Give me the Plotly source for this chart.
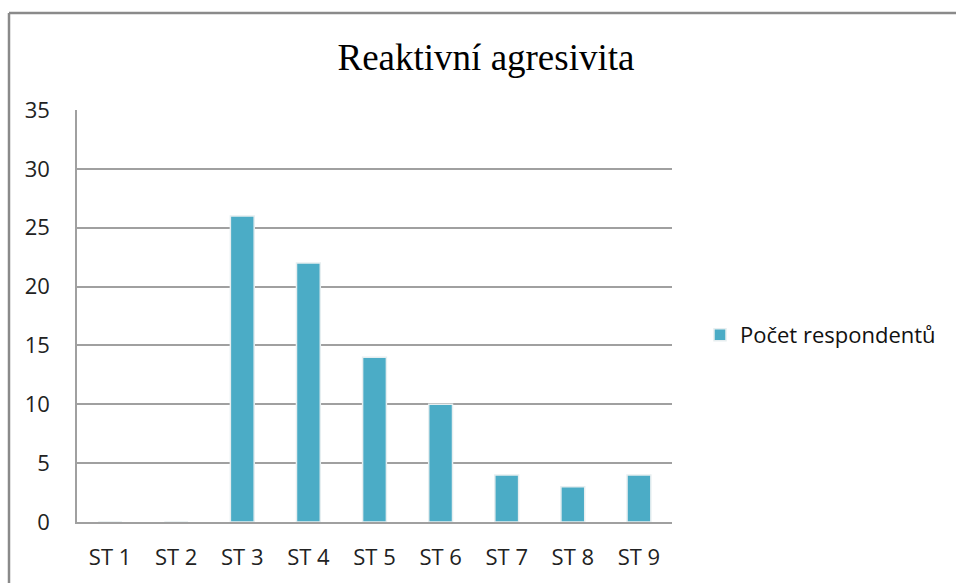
import plotly.graph_objects as go

categories = ["ST 1", "ST 2", "ST 3", "ST 4", "ST 5", "ST 6", "ST 7", "ST 8", "ST 9"]
values = [0, 0, 26, 22, 14, 10, 4, 3, 4]
y_ticks = [0, 5, 10, 15, 20, 25, 30, 35]
series_name = "Počet respondentů"
title_text = "Reaktivní agresivita"

L, R, T, B = 77, 284, 110, 61
W, H = 956, 583
pw, ph = W - L - R, H - T - B

fx0 = (9 - L) / pw
fx1 = (W + 20 - L) / pw
fy_top = 1 + (T - 13) / ph
fy_bot = 1 + (T - (H + 20)) / ph
frame = dict(color="#8A8A8A", width=2.5)

fig = go.Figure()
fig.add_trace(go.Bar(
    x=categories, y=values, name=series_name,
    marker=dict(color="#4BACC6", line=dict(color="#E6EEF0", width=1.5)),
    width=0.36,
    showlegend=True,
    hoverinfo="skip",
))

fig.update_layout(
    width=W, height=H,
    margin=dict(l=L, r=R, t=T, b=B),
    paper_bgcolor="white", plot_bgcolor="white",
    title=dict(text=title_text, x=(486 - L) / pw, xref="paper", xanchor="center",
               y=1 - 57 / H, yanchor="middle",
               font=dict(family="Liberation Serif", size=37, color="#000000")),
    font=dict(family="Open Sans", size=22, color="#222222"),
    xaxis=dict(showgrid=False, showline=True, linecolor="#A0A0A0", linewidth=1.5,
               ticks="", tickfont=dict(size=22), ticklabelstandoff=15),
    yaxis=dict(range=[0, 35], tickvals=y_ticks, showgrid=True, gridcolor="#A0A0A0",
               gridwidth=1.5, showline=True, linecolor="#A0A0A0", linewidth=1.5,
               zeroline=False, ticks="", ticklabelstandoff=21, tickfont=dict(size=22)),
    legend=dict(x=(700 - L) / pw, y=1 - (335 - T) / ph, xanchor="left", yanchor="middle",
                font=dict(size=22, color="#111111"), itemwidth=30, bgcolor="rgba(0,0,0,0)"),
    shapes=[
        dict(type="line", xref="paper", yref="paper", x0=fx0, x1=fx1, y0=fy_top, y1=fy_top,
             line=frame, layer="below"),
        dict(type="line", xref="paper", yref="paper", x0=fx0, x1=fx0, y0=fy_top, y1=fy_bot,
             line=frame, layer="below"),
    ],
)

fig.write_html("out.html", config={"displayModeBar": False},
               post_script="document.documentElement.style.overflow='hidden';document.body.style.margin='0';document.body.style.overflow='hidden';")
